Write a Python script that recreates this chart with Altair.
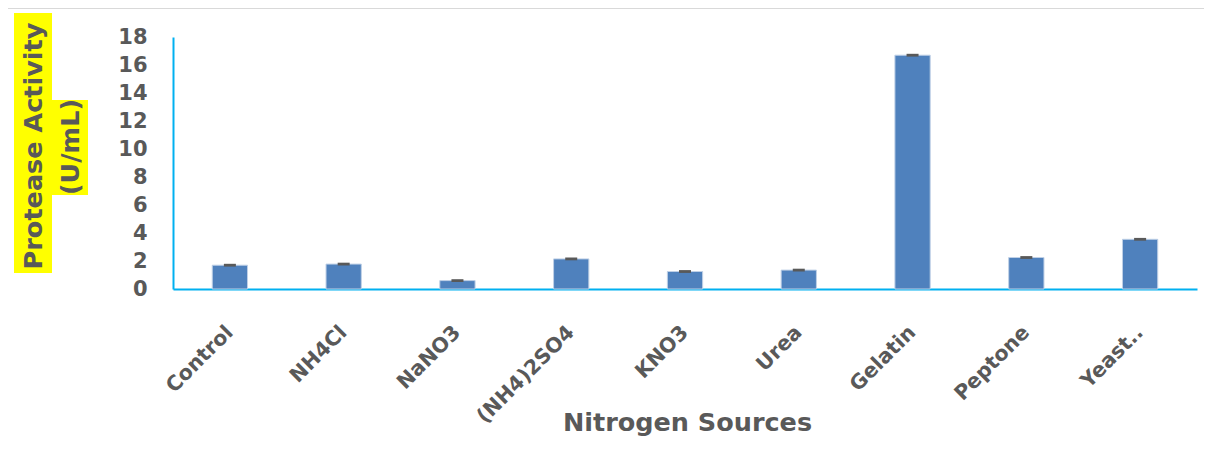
import altair as alt
import pandas as pd

categories = ["Control", "NH4Cl", "NaNO3", "(NH4)2SO4", "KNO3", "Urea", "Gelatin", "Peptone", "Yeast.."]
values = [1.70, 1.78, 0.60, 2.15, 1.25, 1.35, 16.70, 2.25, 3.55]
errors = [0.10, 0.10, 0.10, 0.10, 0.10, 0.10, 0.10, 0.10, 0.10]
y_ticks = [0, 2, 4, 6, 8, 10, 12, 14, 16, 18]

df = pd.DataFrame({"cat": categories, "val": values, "err": errors})
df["lo"] = df["val"] - df["err"]
df["hi"] = df["val"] + df["err"]

FONT = "DejaVu Sans"
GREY = "#595959"
BLUE_AXIS = "#00B0F0"

x_axis = alt.Axis(
    labelAngle=-45, labelAlign="right", labelBaseline="middle",
    labelPadding=40, labelFontSize=20.5, labelFont=FONT, labelFontWeight="bold",
    labelColor=GREY, ticks=False, domainColor=BLUE_AXIS, domainWidth=2,
    labelOverlap=False,
    titleFont=FONT, titleFontSize=25.5, titleFontWeight="bold", titleColor=GREY,
    titleX=514, titleY=141, titleBaseline="alphabetic", grid=False,
)
y_axis = alt.Axis(
    values=y_ticks, ticks=False, grid=False, labelPadding=26,
    labelOverlap=False, labelBound=False, labelSeparation=0,
    labelFontSize=21, labelFont=FONT, labelFontWeight="bold", labelColor=GREY,
    domainColor=BLUE_AXIS, domainWidth=2,
)
x_scale = alt.Scale(paddingInner=0.69, paddingOuter=0.345)
y_scale = alt.Scale(domain=[0, 18], nice=False)

bars = alt.Chart(df).mark_bar(color="#4F81BD", stroke="#BFD0E6", strokeWidth=1).encode(
    x=alt.X("cat:N", sort=categories, title="Nitrogen Sources", scale=x_scale, axis=x_axis),
    y=alt.Y("val:Q", scale=y_scale, title=None, axis=y_axis),
)

errs = alt.Chart(df).mark_bar(color=GREY, size=12).encode(
    x=alt.X("cat:N", sort=categories, title="Nitrogen Sources", scale=x_scale, axis=x_axis),
    y=alt.Y("lo:Q", scale=y_scale, title=None, axis=y_axis),
    y2="hi:Q",
)

# y-axis title with yellow highlight
hl = pd.DataFrame({"k": [0]})
rect1 = alt.Chart(hl).mark_rect(color="#FFFF00").encode(
    x=alt.value(-159), x2=alt.value(-121), y=alt.value(-24), y2=alt.value(236)
)
rect2 = alt.Chart(hl).mark_rect(color="#FFFF00").encode(
    x=alt.value(-121), x2=alt.value(-85), y=alt.value(63), y2=alt.value(158)
)
t1 = alt.Chart(hl).mark_text(
    text="Protease Activity", angle=270, font=FONT, fontSize=25.5, fontWeight="bold",
    color=GREY, align="center", baseline="middle",
).encode(x=alt.value(-139), y=alt.value(109))
t2 = alt.Chart(hl).mark_text(
    text="(U/mL)", angle=270, font=FONT, fontSize=25.5, fontWeight="bold",
    color=GREY, align="center", baseline="middle",
).encode(x=alt.value(-102), y=alt.value(110))

frame = alt.Chart(hl).mark_rect(fill="white", fillOpacity=0, stroke="#D9D9D9", strokeWidth=2).encode(
    x=alt.value(-166), x2=alt.value(1300), y=alt.value(-29), y2=alt.value(600)
)

chart = alt.layer(frame, rect1, rect2, t1, t2, bars, errs).properties(
    width=1024, height=252,
    autosize=alt.AutoSizeParams(type="none"),
    padding={"left": 165, "top": 29, "right": 7, "bottom": 170},
    view=alt.ViewBackground(stroke="transparent", strokeWidth=0),
).configure_view(strokeWidth=0, stroke="transparent").configure(background="white")

chart.save("out.html", embed_options={"renderer": "svg", "actions": False})
